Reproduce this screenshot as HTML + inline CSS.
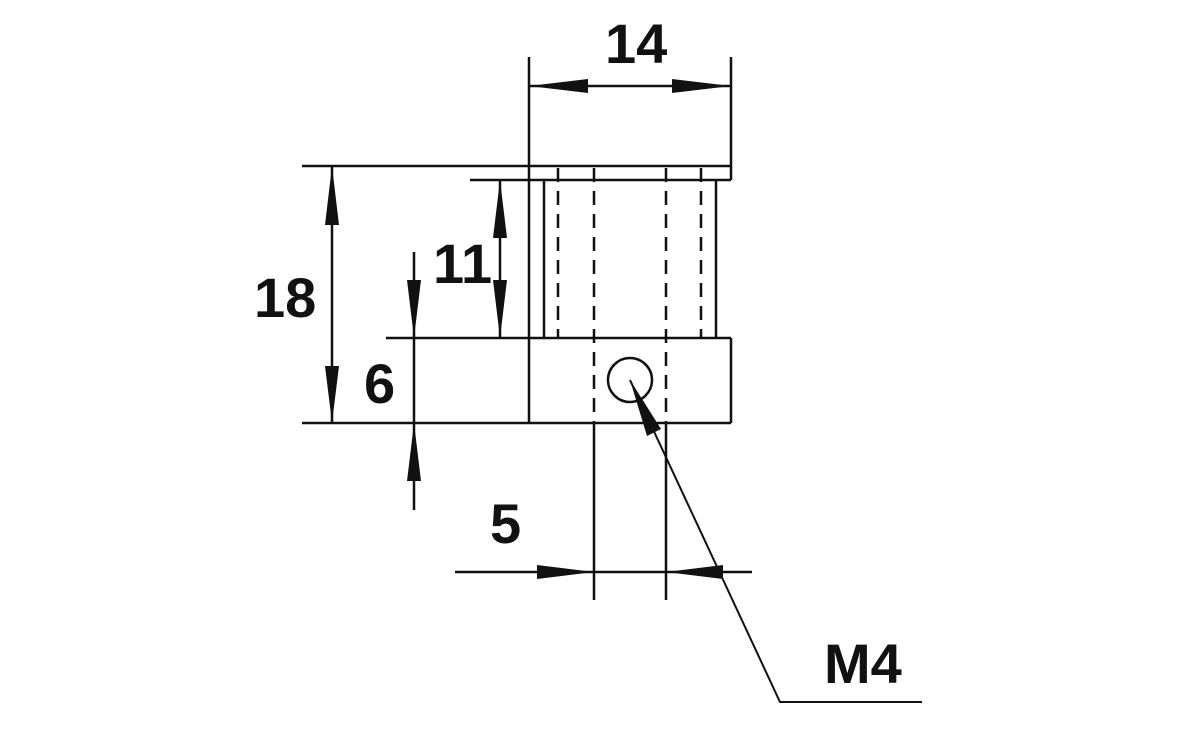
<!DOCTYPE html>
<html><head><meta charset="utf-8"><style>
html,body{margin:0;padding:0;background:#fff;}
svg{display:block;}
text{font-family:"Liberation Sans","DejaVu Sans",sans-serif;font-weight:bold;font-size:56px;fill:#111;}
</style></head><body>
<svg width="1200" height="742" viewBox="0 0 1200 742" xmlns="http://www.w3.org/2000/svg">
<g stroke="#111" stroke-width="2.5" fill="none">
  <!-- flange -->
  <line x1="302" y1="166" x2="731" y2="166"/>
  <line x1="470" y1="180" x2="731" y2="180"/>
  <line x1="731" y1="57" x2="731" y2="180"/>
  <line x1="529" y1="57" x2="529" y2="423"/>
  <!-- body -->
  <line x1="544" y1="180" x2="544" y2="338"/>
  <line x1="716" y1="180" x2="716" y2="338"/>
  <!-- bottom block -->
  <line x1="386" y1="338" x2="731" y2="338"/>
  <line x1="302" y1="423" x2="731" y2="423"/>
  <line x1="731" y1="338" x2="731" y2="423"/>
  <circle cx="630" cy="380" r="22"/>
  <!-- 14 dim -->
  <line x1="529" y1="86" x2="731" y2="86"/>
  <!-- 18 -->
  <line x1="332" y1="166" x2="332" y2="423"/>
  <!-- 11 -->
  <line x1="500" y1="180" x2="500" y2="338"/>
  <!-- 6 -->
  <line x1="414" y1="252" x2="414" y2="510"/>
  <!-- 5 -->
  <line x1="594" y1="423" x2="594" y2="600"/>
  <line x1="666" y1="423" x2="666" y2="600"/>
  <line x1="455" y1="572" x2="752" y2="572"/>
  <!-- leader -->
  <polyline points="630,380 780,702 922,702" stroke-width="2"/>
</g>
<g stroke="#111" stroke-width="2.5" stroke-dasharray="14,9" fill="none">
  <line x1="558" y1="168" x2="558" y2="338"/>
  <line x1="594" y1="168" x2="594" y2="423"/>
  <line x1="666" y1="168" x2="666" y2="423"/>
  <line x1="701" y1="168" x2="701" y2="338"/>
</g>
<g fill="#111">
  <!-- 14 arrows -->
  <polygon points="529,86 588,79 588,93"/>
  <polygon points="731,86 672,79 672,93"/>
  <!-- 18 arrows -->
  <polygon points="332,166 325,225 339,225"/>
  <polygon points="332,423 325,366 339,366"/>
  <!-- 11 arrows -->
  <polygon points="500,180 493,238 507,238"/>
  <polygon points="500,338 493,280 507,280"/>
  <!-- 6 arrows -->
  <polygon points="414,338 407,280 421,280"/>
  <polygon points="414,423 407,481 421,481"/>
  <!-- 5 arrows -->
  <polygon points="594,572 537,565 537,579"/>
  <polygon points="666,572 723,565 723,579"/>
  <!-- leader arrow -->
  <polygon points="630,380 647,436 661,429"/>
</g>
<text x="605" y="63">14</text>
<text x="254" y="317">18</text>
<text x="433" y="283">11</text>
<text x="364" y="403">6</text>
<text x="490" y="543">5</text>
<text x="824" y="683">M4</text>
</svg>
</body></html>
